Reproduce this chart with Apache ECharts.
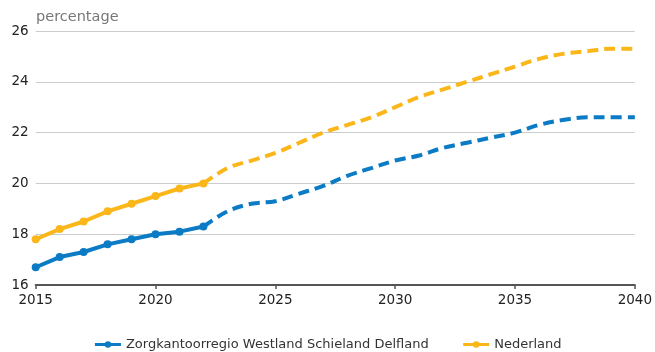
<!DOCTYPE html>
<html>
<head>
<meta charset="utf-8">
<script src="https://cdn.jsdelivr.net/npm/echarts@6/dist/echarts.min.js"></script>
<style>
  html, body { margin: 0; padding: 0; background: #fff; }
  #chart { width: 655px; height: 352px; }
</style>
</head>
<body>
<div id="chart"></div>
<script>
// Share of the population (percentage), observed 2015-2022, projected 2022-2040
const years = [2015, 2016, 2017, 2018, 2019, 2020, 2021, 2022, 2023, 2024, 2025, 2026, 2027,
               2028, 2029, 2030, 2031, 2032, 2033, 2034, 2035, 2036, 2037, 2038, 2039, 2040];
const regioValues = [16.7, 17.1, 17.3, 17.6, 17.8, 18.0, 18.1, 18.3, 18.9, 19.2, 19.3, 19.6, 19.9,
                     20.3, 20.6, 20.9, 21.1, 21.4, 21.6, 21.8, 22.0, 22.3, 22.5, 22.6, 22.6, 22.6];
const nederlandValues = [17.8, 18.2, 18.5, 18.9, 19.2, 19.5, 19.8, 20.0, 20.6, 20.9, 21.2, 21.6, 22.0,
                         22.3, 22.6, 23.0, 23.4, 23.7, 24.0, 24.3, 24.6, 24.9, 25.1, 25.2, 25.3, 25.3];
const seriesNames = ['Zorgkantoorregio Westland Schieland Delfland', 'Nederland'];
const lastObservedYear = 2022;
const yTicks = [16, 18, 20, 22, 24, 26];
const xTicks = [2015, 2020, 2025, 2030, 2035, 2040];

const colors = ['#0a7bc4', '#fbb61a'];
const FONT = 'DejaVu Sans';

function observed(values) {
  return years.map((y, i) => [y, values[i]]).filter(p => p[0] <= lastObservedYear);
}
function projected(values) {
  return years.map((y, i) => [y, values[i]]).filter(p => p[0] >= lastObservedYear);
}

function makeSeries(name, values, color) {
  return [
    {
      name: name,
      type: 'line',
      data: observed(values),
      symbol: 'circle',
      symbolSize: 8,
      itemStyle: { color: color },
      lineStyle: { color: color, width: 4 },
      z: 3
    },
    {
      name: name,
      type: 'line',
      data: projected(values),
      showSymbol: false,
      symbol: 'circle',
      smooth: 0.35,
      itemStyle: { color: color },
      lineStyle: { color: color, width: 4, type: [11, 6] },
      z: 2
    }
  ];
}

const chart = echarts.init(document.getElementById('chart'), null, { renderer: 'canvas' });
chart.setOption({
  animation: false,
  textStyle: { fontFamily: FONT },
  title: {
    text: 'percentage',
    left: 31,
    top: 5,
    textStyle: { fontFamily: FONT, fontSize: 14.5, fontWeight: 'normal', color: '#777' }
  },
  grid: { left: 35.7, right: 19.3, top: 31, bottom: 67 },
  legend: {
    data: seriesNames,
    top: 333,
    left: 'center',
    itemWidth: 26,
    itemHeight: 8,
    itemGap: 33,
    lineStyle: { width: 3 },
    textStyle: { fontFamily: FONT, fontSize: 13, color: '#333' }
  },
  xAxis: {
    type: 'value',
    min: xTicks[0],
    max: xTicks[xTicks.length - 1],
    interval: 5,
    axisLine: { show: true, lineStyle: { color: '#555', width: 2 } },
    axisTick: { show: true, length: 4, lineStyle: { color: '#555', width: 1.5 } },
    splitLine: { show: false },
    axisLabel: {
      fontFamily: FONT, fontSize: 13.5, color: '#222', margin: 8,
      formatter: v => String(v)
    }
  },
  yAxis: {
    type: 'value',
    min: yTicks[0],
    max: yTicks[yTicks.length - 1],
    interval: 2,
    axisLine: { show: false },
    axisTick: { show: false },
    splitLine: { lineStyle: { color: '#ccc', width: 1 } },
    axisLabel: {
      fontFamily: FONT, fontSize: 13.5, color: '#222', margin: 7,
      padding: [0, 0, 6, 0]
    }
  },
  series: [
    ...makeSeries(seriesNames[0], regioValues, colors[0]),
    ...makeSeries(seriesNames[1], nederlandValues, colors[1])
  ]
});
</script>
</body>
</html>
